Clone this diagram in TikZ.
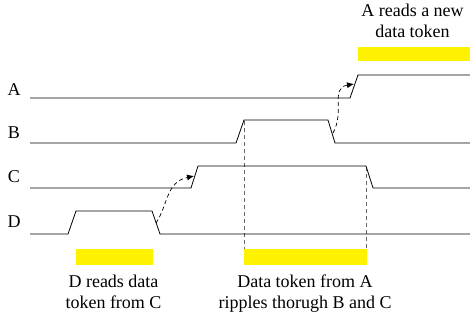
\documentclass[tikz,border=0pt]{standalone}
\usepackage{fontspec}
\setmainfont{Liberation Serif}
\usetikzlibrary{arrows.meta}

\begin{document}
\begin{tikzpicture}[x=1pt,y=-1pt,
  wave/.style={line width=0.8pt},
  token/.style={fill=yellow},
  guide/.style={gray!80!black,line width=0.8pt,dash pattern=on 4pt off 3pt},
  hop/.style={line width=0.7pt,dash pattern=on 4pt off 3pt,-{Latex[length=7pt,width=6pt]}},
  sig/.style={font=\fontsize{18}{21}\selectfont,anchor=base,inner sep=0pt},
  note/.style={font=\fontsize{18}{21}\selectfont,align=center,anchor=north,inner sep=0pt}]
\useasboundingbox (0,0) rectangle (470,322);

% yellow windows
\fill[token] (358,47) rectangle (470,61);
\fill[token] (76,249) rectangle (153,265);
\fill[token] (244,249) rectangle (367,265);

% guides
\draw[guide] (244,121) -- (244,249);
\draw[guide] (366,167) -- (366,249);

% signals
\node[sig] (labA) at (14,95) {A};
\node[sig] (labB) at (14,138) {B};
\node[sig] (labC) at (14,182) {C};
\node[sig] (labD) at (14,227) {D};
\draw[wave] (30,98) -- (350,98) -- (358,75) -- (470,75);
\draw[wave] (30,143) -- (236,143) -- (244,120) -- (328,120) -- (335,143) -- (470,143);
\draw[wave] (30,188) -- (191,188) -- (198,166) -- (366,166) -- (373,188) -- (470,188);
\draw[wave] (30,234) -- (68,234) -- (76,211) -- (152,211) -- (160,234) -- (470,234);

% hand-over
\coordinate (Bfall) at (333,133);
\coordinate (Arise) at (354,84);
\coordinate (Dfall) at (156,223);
\coordinate (Crise) at (194,176);
\draw[hop] (Bfall) .. controls (345,112) and (330,88) .. (Arise);
\draw[hop] (Dfall) .. controls (168,205) and (166,182) .. (Crise);

% notes
\node[note] (readA) at (412.5,3.7) {A reads a new\\data token};
\node[note] (readD) at (113.5,274.7) {D reads data\\token from C};
\node[note] (ripple) at (305,274.7) {Data token from A\\ripples thorugh B and C};
\end{tikzpicture}
\end{document}
